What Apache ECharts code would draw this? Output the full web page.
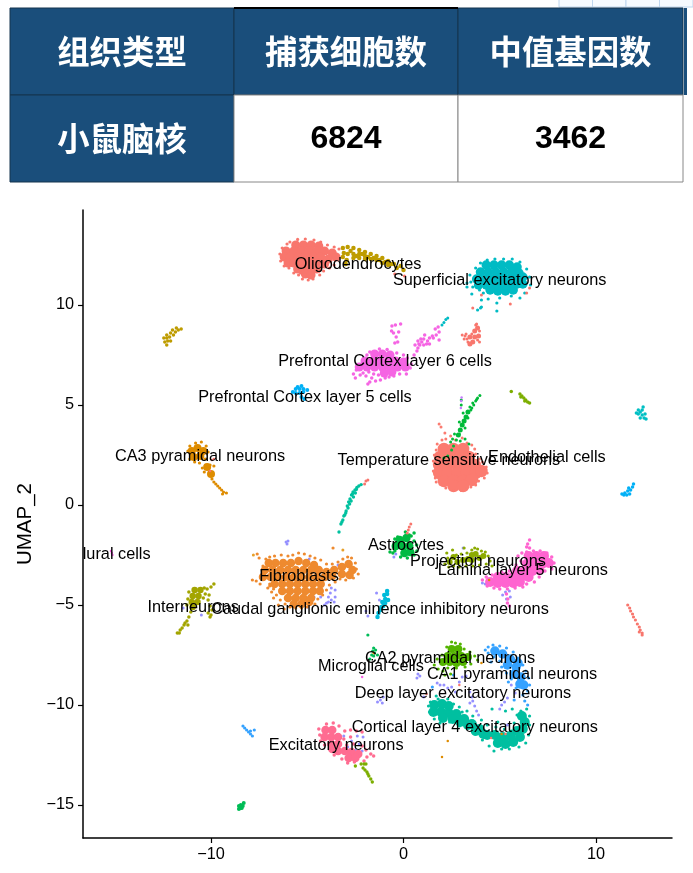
<!DOCTYPE html>
<html><head><meta charset="utf-8">
<style>html,body{margin:0;padding:0;background:#fff}#c{width:693px;height:873px}</style>
<script src="https://cdn.jsdelivr.net/npm/echarts@6/dist/echarts.min.js"></script>
</head><body><div id="c"></div>
<script>
const tableHead=["组织类型","捕获细胞数","中值基因数"];
const tableRow=["小鼠脑核","6824","3462"];
const xTicks=[-10,0,10];
const yTicks=[-15,-10,-5,0,5,10];
const labelNames=["Oligodendrocytes","Superficial excitatory neurons","Prefrontal Cortex layer 6 cells","Prefrontal Cortex layer 5 cells","CA3 pyramidal neurons","Temperature sensitive neurons","Endothelial cells","Astrocytes","Projection neurons","Lamina layer 5 neurons","Fibroblasts","Interneurons","Caudal ganglionic eminence inhibitory neurons","CA2 pyramidal neurons","Microglial cells","CA1 pyramidal neurons","Deep layer excitatory neurons","Cortical layer 4 excitatory neurons","Excitatory neurons","lural cells"];
const labelX=[-2.36,5.0,-0.96,-5.12,-10.57,2.36,7.45,0.13,3.87,6.2,-5.43,-10.93,-1.22,2.42,-1.69,5.64,3.09,3.71,-3.5,-14.9];
const labelY=[12.0,11.2,7.15,5.38,2.42,2.23,2.35,-2.05,-2.85,-3.3,-3.6,-5.15,-5.25,-7.7,-8.1,-8.5,-9.45,-11.15,-12.05,-2.47];

const oligoCore=[[-5.6,13],[-5.2,13],[-4.8,13],[-4.4,12.95],[-6.1,12.7],[-5.7,12.7],[-5.3,12.7],[-4.9,12.7],[-4.5,12.7],[-4.1,12.7],[-3.7,12.6],[-6.2,12.4],[-5.9,12.4],[-5.5,12.4],[-5.1,12.4],[-4.7,12.4],[-4.3,12.4],[-3.9,12.3],[-3.5,12.4],[-6,12.1],[-5.7,12.1],[-5.3,12.1],[-4.9,12.1],[-4.5,12.1],[-4.1,12.05],[-5.5,11.8],[-5.2,11.8],[-4.8,11.8],[-4.5,11.8],[-5.1,11.55],[-4.8,11.5]];
const oligoFringe=[[-6.42,12.55],[-6.38,12.2],[-6.3,12.85],[-6.05,13.05],[-5.9,13.15],[-5.5,13.28],[-5.1,13.3],[-4.65,13.25],[-4.3,13.15],[-3.95,13.0],[-3.6,12.9],[-3.35,12.8],[-6.2,11.95],[-5.95,11.85],[-5.7,11.6],[-5.45,11.5],[-5.25,11.3],[-4.95,11.25],[-4.7,11.3],[-4.35,11.5],[-4.15,11.7],[-3.85,11.85],[-3.6,12],[-0.45,11.55],[0.05,11.45],[-5.35,11.6]];
const oligoTail=[[-3.15,12.85],[-3.1,12.6],[-3.15,12.4],[-2.9,12.9],[-2.9,12.55],[-2.95,12.25],[-2.6,12.85],[-2.6,12.55],[-2.6,12.35],[-2.3,12.75],[-2.3,12.55],[-2.3,12.35],[-2,12.65],[-2,12.45],[-2,12.3],[-1.7,12.55],[-1.7,12.3],[-1.4,12.45],[-1.4,12.25],[-1.1,12.35],[-1.1,12.1],[-0.8,12.2],[-0.8,12],[-0.5,12.05],[-0.35,11.85],[-0.15,11.95],[0,11.75],[-3.0,12.05],[-2.75,12.7],[-2.45,12.45],[-2.15,12.55],[-1.85,12.4],[-1.55,12.35],[-1.25,12.25],[-0.95,12.15],[-0.65,12.05]];
const superCore=[[4.3,12],[4.7,12],[5.1,12],[5.5,12],[5.9,11.9],[4,11.65],[4.4,11.65],[4.8,11.65],[5.2,11.65],[5.6,11.65],[6,11.6],[6.2,11.4],[3.8,11.3],[4.2,11.3],[4.6,11.3],[5,11.3],[5.4,11.3],[5.8,11.3],[3.9,11],[4.3,11],[4.7,11],[5.1,11],[5.5,11],[5.9,11.05],[6.2,11.05],[4.5,10.75],[4.9,10.7],[5.3,10.7],[5.7,10.75]];
const superFringe=[[3.45,11.5],[3.5,11.15],[3.6,10.9],[3.75,11.85],[4,12.1],[4.35,12.25],[4.75,12.3],[5.2,12.3],[5.65,12.3],[6.05,12.15],[6.4,11.8],[6.55,11.4],[6.6,11],[6.3,10.6],[6.05,10.35],[5.6,10.45],[5,10.35],[4.85,10.1],[4.4,10.3],[4.05,10.25],[4.15,10.6],[3.95,10.75],[3.3,10.9],[3.55,10.55],[3.85,9.75],[4.05,9.9],[4.85,9.7],[3.3,11.1]];
const superSalmon=[[4.05,10.5],[5.55,10.05],[6.4,10.6],[6.55,10.85],[3.6,9.85]];
const pfc6Core=[[-1.5,7.55],[-1.1,7.55],[-0.7,7.5],[-2,7.2],[-1.6,7.2],[-1.2,7.2],[-0.8,7.2],[-0.4,7.2],[0,7.15],[-2.3,6.9],[-1.9,6.9],[-1.5,6.9],[-1.1,6.9],[-0.7,6.9],[-0.3,6.9],[0.1,6.9],[-1,6.6],[-0.6,6.65]];
const pfc6Fringe=[[-2.6,6.55],[-2.45,6.75],[-2.5,6.35],[-2.25,6.5],[-2.1,6.6],[-1.95,6.45],[-1.8,6.65],[-1.65,6.35],[-1.55,6.55],[-1.45,6.2],[-1.3,6.5],[-1.2,6.25],[-0.95,6.35],[-0.75,6.4],[-1.75,6.15],[-1.85,6.05],[-0.5,6.45],[-0.2,6.55],[0.15,6.55],[0.35,6.85],[0.4,7.05],[0.2,7.35],[0,7.5],[-0.35,7.6],[-1.9,7.5],[-1.75,7.65],[-1.25,7.8],[-0.85,7.78],[-0.45,8.1],[-0.38,8.4],[-0.3,8.15],[-0.52,8.6],[-0.6,8.95],[-0.42,9.0],[-0.25,8.65],[-0.15,9.05],[-0.62,8.7],[0.55,7.5],[0.7,7.7],[0.6,8],[0.75,8.2],[0.9,8.3],[0.85,8],[1.05,8],[1.05,8.3],[1.25,8.2],[1.35,8.05],[1.5,8.45],[1.7,8.5],[1.65,8.8],[1.85,8.65],[1.35,8.35],[1.1,8.5],[0.75,7.85],[1.85,8.25],[1.55,8.35],[1.8,8.9],[0.95,8.15],[1.2,8.05],[0.8,8.05]];
const tealBits=[[2.0,9.0],[2.1,9.12],[2.2,9.28],[2.3,9.35],[4.0,9.85]];
const salmonSmallCore=[[3.45,8.4],[3.7,8.4],[3.9,8.45],[3.7,8.7],[3.85,8.85],[3.6,8.15],[3.45,8.05]];
const salmonSmallFringe=[[3.05,8.5],[3.2,8.45],[3.15,8.3],[3.3,8.3],[3.35,8.15],[3.95,8.15],[3.85,8.25],[3.95,8.7],[3.75,9.0],[3.8,9.05],[3.55,8.55],[3.25,8.55]];
const pfc5=[[-5.6,5.8],[-5.4,5.8],[-5.2,5.8],[-5.6,5.6],[-5.4,5.6],[-5.2,5.65],[-5,5.75],[-5.75,5.65],[-5.3,5.95],[-5.5,5.9],[-5.3,5.4],[-5.15,5.3]];
const goldLeft=[[-12.3,8.0],[-12.4,8.15],[-12.25,8.2],[-12.1,8.2],[-12.45,8.35],[-12.3,8.35],[-12.15,8.4],[-12.3,8.5],[-12.1,8.6],[-11.95,8.5],[-11.85,8.65],[-11.7,8.75],[-11.55,8.8],[-12,8.75],[-11.8,8.85]];
const greenCore=[[3.35,4.65],[3.25,4.4],[3.15,4.2],[3.05,4.0],[2.95,3.75],[2.85,3.5]];
const greenFringe=[[3.5,4.75],[3.1,4.6],[3.35,4.35],[2.9,4.15],[3.2,3.85],[2.65,3.55],[2.55,3.3],[2.75,3.25],[2.95,3.2],[2.45,3.15],[3.2,3.3],[3.4,3.05],[2.5,2.75],[2.3,2.45],[2.1,2.35],[2.6,2.95],[2.9,3.55],[3.55,4.85],[3.65,5.0],[3.75,5.2],[3.85,5.35],[3.97,5.48],[3.45,4.9],[3.6,5.1],[3.8,5.28],[3.0,5.0],[3.0,5.25]];
const tempMag=[[3.0,5.2],[3.02,5.38],[2.98,4.85]];
const tempCore=[[2.1,2.8],[2.6,2.8],[3.1,2.8],[1.9,2.4],[2.4,2.4],[2.9,2.4],[3.4,2.4],[1.85,2],[2.3,2],[2.8,2],[3.3,2],[3.7,2],[1.85,1.6],[2.3,1.6],[2.8,1.6],[3.3,1.6],[3.75,1.6],[4.05,1.7],[2.1,1.2],[2.6,1.2],[3.1,1.2],[3.55,1.25],[2.6,0.95],[3.1,0.95]];
const tempFringe=[[1.55,2.2],[1.6,2.5],[1.7,2.75],[1.75,3.05],[2.0,3.25],[2.2,3.3],[2.45,3.45],[2.15,3.6],[1.95,3.9],[1.85,4.05],[2.7,3.25],[3.05,3.35],[3.3,3.1],[3.55,3.0],[3.7,2.8],[3.75,2.55],[3.95,2.3],[4.1,2.15],[4.3,1.9],[4.35,1.6],[4.2,1.35],[3.9,1.2],[3.75,1.0],[3.5,0.9],[3.3,0.85],[3.0,0.72],[2.6,0.72],[2.2,0.85],[1.9,1.05],[1.65,1.35],[1.55,1.7],[1.7,1.15]];
const streakTeal=[[-3.35,-1.35],[-3.25,-0.95],[-3.15,-0.75],[-3.05,-0.5],[-2.98,-0.3],[-2.92,-0.05],[-2.85,0.15],[-2.78,0.3],[-2.7,0.5],[-2.62,0.65],[-2.52,0.75],[-2.42,0.88],[-2.32,0.95],[-2.2,1.02],[-2.8,0.05],[-2.6,0.4],[-3.1,-0.55],[-2.5,0.6],[-3.2,-0.85],[-3.0,-0.4],[-2.88,-0.15],[-2.72,0.2],[-2.65,0.55],[-2.45,0.78]];
const streakSalmon=[[-1.95,1.2],[-2.02,1.05],[-1.85,1.25]];
const astroCore=[[-0.2,-1.75],[0.15,-1.65],[-0.4,-2.05],[-0.05,-2.05],[0.3,-2.05],[0.05,-2.4],[0.35,-2.35]];
const astroFringe=[[-0.7,-2.35],[-0.55,-2.4],[-0.45,-2.3],[0.1,-1.35],[0.3,-1.5],[0.4,-1.55],[0.55,-1.8],[0.68,-2.0],[0.7,-2.3],[0.55,-2.5],[0.2,-2.65],[-0.15,-2.6],[-0.3,-1.6],[-0.45,-1.7],[0.55,-1.4]];
const astroSalmon=[[0.25,-1.25],[0.3,-1.1],[0.38,-0.95],[0.2,-1.4]];
const lava=[[-0.4,-2.45],[-0.5,-2.6],[3.1,-2.15],[5.3,-4.35],[5.5,-4.3],[5.15,-4.5],[5.55,-4.6],[5.35,-4.7],[4.1,-3.9],[4.25,-3.95],[4.85,-3.75],[5.0,-3.95],[-1.85,-5.55],[-1.95,-5.3],[-4.1,-5.0],[-4.0,-4.9],[-4.3,-4.6],[-3.9,-4.85],[-3.75,-4.75],[-3.6,-4.85],[-3.8,-4.4],[-3.55,-4.25],[-3.75,-4.15],[-3.55,-4.6],[-4.65,-4.6],[-4.35,-4.2],[-3.9,-4.6],[-3.4,-3.0],[-4.9,-2.7],[-5.0,-5.1],[-6.1,-1.85],[-6.0,-1.8],[-6.05,-1.95],[-1.4,-4.4],[-1.25,-4.75],[-10.5,-5.5],[-10.85,-4.9],[-10.7,-4.6],[-11.45,-5.15],[0.75,-8.45],[0.85,-8.55],[0.7,-8.65],[1.75,-8.9],[1.9,-9],[2.1,-9],[2.3,-9.15],[2.5,-9.1],[2.7,-9.35],[2.9,-8.85],[3.05,-8.6],[3.25,-8.55],[3.45,-9.35],[3.55,-9.6],[3.6,-9.8],[3.7,-10.05],[3.8,-10.3],[3.45,-9.9],[3.9,-10.5],[5.1,-10],[5.25,-9.85],[5.4,-9.65],[5.0,-10.2],[-1.2,-9.75],[-1.1,-9.9],[-1.35,-9.85],[-1.05,-9.6],[5.6,-9],[5.8,-9.4],[4.8,-11.4],[5.4,-11.0],[1.05,-9.6],[-3.1,-11.55],[-2.7,-11.8],[-2.4,-11.55],[-2.3,-11.95],[-2.9,-12.1],[-2.5,-12.25],[-2.15,-12.3],[-2.1,-11.6]];
const lamina=[[6.5,-2.55],[6.9,-2.55],[7.3,-2.55],[6.4,-2.95],[6.8,-2.95],[7.2,-2.95],[7.55,-2.9],[5.9,-3.3],[6.3,-3.3],[6.7,-3.3],[7.05,-3.25],[4.9,-3.6],[5.3,-3.6],[5.7,-3.6],[6.1,-3.6],[6.5,-3.6],[4.5,-3.85],[4.9,-3.9],[5.3,-3.9],[5.7,-3.9],[6.05,-3.85]];
const laminaFringe=[[6.15,-2.4],[6.4,-2.35],[6.75,-2.3],[7.1,-2.3],[7.45,-2.4],[7.7,-2.6],[7.82,-2.9],[7.7,-3.2],[7.35,-3.3],[7.05,-3.6],[6.8,-3.85],[6.4,-3.95],[6.2,-4.1],[5.8,-4.15],[5.4,-4.2],[5,-4.2],[4.7,-4.15],[4.35,-4.05],[4.1,-3.75],[4.3,-3.6],[4.6,-3.5],[5.1,-3.35],[5.5,-3.3],[5.85,-3.0],[6.1,-2.8],[5.95,-2.55],[5.35,-4.45],[5.42,-4.7],[5.4,-4.9],[5.5,-5.05],[6.45,-1.95],[6.55,-1.75],[6.55,-2.15],[6.4,-2.1]];
const proj=[[2.4,-2.85],[2.6,-2.6],[2.8,-2.85],[3.1,-2.75],[3.35,-2.7],[3.55,-2.5],[3.75,-2.45],[3.55,-2.75],[3.95,-2.65],[4.15,-2.55]];
const projFringe=[[2.25,-2.4],[2.3,-2.65],[2.55,-2.25],[2.75,-2.5],[3.0,-2.45],[3.15,-2.15],[3.3,-2.4],[3.7,-2.15],[3.55,-2.25],[3.85,-2.2],[4.05,-2.3],[4.25,-2.35],[4.4,-2.55],[4.5,-2.8],[4.3,-2.95],[3.95,-3.0],[3.6,-3.05],[3.25,-3.05],[2.9,-3.1],[2.6,-3.05],[2.35,-3.1],[2.15,-2.95],[4.6,-3.05]];
const fibroCore=[[-7,-2.9],[-6.65,-2.9],[-6.25,-2.9],[-5.85,-2.9],[-5.45,-2.8],[-5.05,-2.9],[-4.65,-3],[-7.2,-3.25],[-6.8,-3.25],[-6.4,-3.25],[-6,-3.25],[-5.6,-3.25],[-5.2,-3.25],[-4.8,-3.25],[-4.4,-3.25],[-4,-3.35],[-3.6,-3.25],[-3.2,-3.1],[-2.85,-2.95],[-2.65,-3.25],[-7.3,-3.6],[-6.9,-3.6],[-6.5,-3.6],[-6.1,-3.6],[-5.7,-3.6],[-5.3,-3.6],[-4.9,-3.6],[-4.5,-3.6],[-4.1,-3.6],[-3.7,-3.55],[-3.2,-3.45],[-2.8,-3.5],[-6.7,-3.95],[-6.3,-3.95],[-5.9,-3.95],[-5.5,-3.95],[-5.1,-3.95],[-4.7,-3.95],[-4.3,-3.95],[-6.3,-4.3],[-5.9,-4.3],[-5.5,-4.3],[-5.1,-4.3],[-4.7,-4.3],[-4.35,-4.3],[-6,-4.65],[-5.6,-4.65],[-5.2,-4.65],[-4.8,-4.65],[-5.7,-4.95],[-5.3,-4.95],[-4.9,-4.85]];
const fibroFringe=[[-7.85,-3.75],[-7.65,-3.8],[-7.45,-3.95],[-7.3,-3.05],[-7.15,-2.7],[-6.95,-2.6],[-6.7,-2.55],[-6.35,-2.5],[-6,-2.55],[-5.75,-2.5],[-5.45,-2.4],[-5.15,-2.45],[-4.85,-2.55],[-4.6,-2.65],[-4.3,-2.75],[-4,-2.95],[-3.7,-2.95],[-3.4,-2.85],[-3.15,-2.7],[-2.9,-2.6],[-2.7,-2.65],[-2.5,-2.9],[-2.45,-3.2],[-2.35,-3.45],[-2.6,-3.65],[-3,-3.75],[-3.3,-3.7],[-3.55,-3.85],[-3.85,-4],[-4,-4.25],[-4.2,-4.5],[-4.45,-4.7],[-4.6,-4.95],[-5,-5.1],[-5.3,-5.15],[-5.6,-5.15],[-5.9,-5.1],[-6.15,-4.95],[-6.4,-4.75],[-6.6,-4.5],[-6.75,-4.2],[-6.95,-4.05],[-6.95,-3.95],[-7.05,-4.15],[-6.85,-4.35],[-7.5,-2.65],[-7.6,-2.45],[-6.75,-4.65],[-6.5,-5],[-6.2,-5.2],[-3.66,-2.15]];
const fibroSalmon=[[-7.8,-2.5],[-3.15,-2.25]];
const interCore=[[-10.85,-4.25],[-10.55,-4.25],[-10.95,-4.55],[-10.65,-4.55],[-11,-4.85],[-10.7,-4.85],[-10.95,-5.1]];
const interFringe=[[-11.15,-4.35],[-11.2,-4.7],[-11.25,-5.0],[-10.35,-4.15],[-10.3,-4.45],[-10.4,-4.65],[-10.2,-4.2],[-10.0,-4.1],[-9.85,-3.95],[-10.1,-4.5],[-10.15,-4.75],[-10.05,-5.05],[-9.95,-5.25],[-10.15,-5.4],[-10,-5.5],[-10.05,-5.6],[-11.05,-5.35],[-11.15,-5.6],[-11.25,-5.8],[-11.2,-6],[-11.4,-6],[-11.5,-6.15],[-11.6,-6.25],[-11.75,-6.4],[-11.65,-6.4],[-11.35,-5.9]];
const ca3Core=[[-11,2.7],[-10.7,2.85],[-10.4,2.7],[-10.9,2.4],[-10.55,2.45],[-10.2,1.9],[-10.0,1.55]];
const ca3Fringe=[[-11.2,2.7],[-11.1,2.95],[-10.8,3.1],[-10.5,3.15],[-10.25,2.95],[-10.15,2.65],[-10.3,2.3],[-10.6,2.1],[-10.85,2.15],[-11.1,2.3],[-10.45,1.85],[-10.35,1.65],[-10.05,2],[-9.85,1.95],[-9.95,1.3],[-9.85,1.15],[-9.75,1.05],[-9.65,0.95],[-9.55,0.85],[-9.45,0.75],[-9.35,0.65],[-9.2,0.6],[-9.4,0.55]];
const ca3Salmon=[[-9.95,2.25],[-9.85,2.3],[-10.05,1.7]];
const olive6=[[5.6,5.68],[6.05,5.55],[6.15,5.45],[6.25,5.35],[6.35,5.25],[6.45,5.15],[6.55,5.1],[6.1,5.4],[6.3,5.2]];
const cyanRight=[[12.2,4.75],[12.4,4.75],[12.2,4.55],[12.4,4.5],[12.55,4.55],[12.3,4.65],[12.3,4.35],[12.5,4.35],[12.1,4.6],[12.45,4.9],[12.6,4.3]];
const blueRight=[[11.35,0.55],[11.5,0.6],[11.65,0.7],[11.8,0.75],[11.6,0.5],[11.75,0.55],[11.9,0.9],[11.95,1.05],[11.7,0.85],[11.45,0.5]];
const salmonRight=[[11.65,-5],[11.75,-5.15],[11.8,-5.3],[11.9,-5.45],[11.95,-5.6],[12.05,-5.75],[12.15,-5.95],[12.25,-6.1],[12.3,-6.25],[12.4,-6.4],[12.4,-6.5],[12.25,-6.35]];
const caudal=[[-1.0,-4.5],[-0.85,-4.45],[-0.95,-4.7],[-0.8,-4.75],[-1.1,-4.85],[-0.95,-4.9],[-1.15,-5.1],[-1.05,-5.05],[-1.2,-5.25],[-1.3,-5.4],[-1.35,-5.6],[-0.85,-4.3]];
const blueLeft=[[-8.34,-11.05],[-8.25,-11.15],[-8.15,-11.25],[-8.05,-11.35],[-7.95,-11.45],[-7.85,-11.55],[-7.95,-11.3],[-7.75,-11.25]];
const greenBottom=[[-8.45,-15.15],[-8.55,-15.2],[-8.35,-15.05],[-8.45,-15],[-8.3,-14.9],[-8.55,-15.05],[-8.4,-15.15]];
const exciteCore=[[-4.05,-11.25],[-3.7,-11.25],[-4.1,-11.6],[-3.75,-11.6],[-3.4,-11.6],[-3.75,-11.95],[-3.4,-11.95],[-3.4,-12.3],[-3.05,-12.3],[-2.7,-12.35],[-2.35,-12.45],[-2.85,-12.65],[-2.5,-12.65],[-3.7,-12.2]];
const exciteFringe=[[-4.4,-11.2],[-4.35,-11.5],[-4.3,-11.8],[-4.1,-12],[-4.0,-10.95],[-3.65,-10.9],[-3.35,-11.05],[-3.05,-11.3],[-2.75,-11.25],[-2.45,-11.3],[-2.15,-11.35],[-3.1,-11.7],[-2.75,-11.6],[-2.95,-12],[-2.15,-12.05],[-1.95,-12.25],[-1.7,-12.45],[-1.55,-12.55],[-1.9,-12.6],[-2.05,-12.8],[-2.55,-12.85],[-2.9,-12.9],[-3.2,-12.7],[-3.6,-12.5],[-2.6,-11.95]];
const oliveTail=[[-2.1,-13.15],[-2.0,-13.25],[-1.9,-13.35],[-1.85,-13.45],[-1.8,-13.55],[-1.7,-13.7],[-1.62,-13.85],[-2.05,-12.95],[-1.95,-12.95],[-2.2,-12.95],[-2.5,-13.05]];
const ca1Core=[[4.75,-7.3],[5.15,-7.45],[5.55,-7.7],[5.4,-8.0],[5.85,-8.1],[5.75,-8.45],[6.1,-8.6],[6.05,-8.95],[5.95,-7.9],[6.25,-9.0]];
const ca1Fringe=[[4.4,-7.1],[4.65,-7.0],[5.0,-7.05],[5.35,-7.15],[5.7,-7.35],[5.95,-7.65],[6.2,-8],[6.35,-8.3],[6.5,-8.65],[6.55,-9],[6.45,-9.3],[6.2,-9.5],[5.85,-9.15],[5.6,-8.7],[5.35,-8.4],[5.1,-8.1],[5.0,-7.8],[4.7,-7.6],[4.4,-7.4],[4.25,-7.25],[6.3,-9.8],[6.45,-10],[5.75,-9.75],[5.45,-8.85],[4.55,-7.85],[2.6,-8.5],[1.5,-9.1]];
const ca2Core=[[2.5,-7.2],[2.85,-7.2],[2.3,-7.55],[2.65,-7.55],[3,-7.55],[3.35,-7.6],[2.05,-7.85],[2.4,-7.85],[2.75,-7.9],[3.1,-7.85]];
const ca2Fringe=[[2.5,-6.85],[2.7,-6.9],[2.95,-6.95],[2.25,-7.1],[3.15,-7.2],[3.45,-7.35],[3.7,-7.55],[3.85,-7.75],[3.5,-7.95],[3.2,-8.1],[2.75,-8.15],[2.3,-8.15],[2.05,-8.3],[1.8,-8.2],[1.6,-8],[1.75,-7.7],[2.0,-7.5],[2.45,-8.45],[2.15,-8.5]];
const ctxCore=[[1.6,-10],[2,-9.95],[1.55,-10.35],[1.95,-10.35],[2.35,-10.4],[2.75,-10.45],[2.05,-10.65],[3.15,-10.7],[3.55,-10.95],[3.95,-11.2],[4.35,-11.5],[4.75,-11.5],[5.15,-11.6],[4.9,-11.9],[5.3,-11.95],[5.7,-11.85],[6.05,-11.6],[6.2,-11.2],[6.3,-10.85],[2.35,-10.05],[2.55,-10.7],[2.95,-10.85],[3.35,-11],[3.75,-11.3],[4.15,-11.45],[5.55,-11.55],[5.9,-11.3],[6.15,-10.55]];
const ctxFringe=[[1.3,-10.05],[1.35,-10.35],[1.4,-9.85],[1.8,-9.7],[2.3,-9.7],[2.6,-9.95],[2.9,-10.1],[3.3,-10.3],[3.6,-10.55],[4.05,-10.75],[4.35,-11],[4.8,-11.1],[5.25,-11.2],[5.6,-11.3],[5.75,-10.9],[5.9,-10.5],[6.1,-10.3],[6.4,-10.2],[6.55,-10.55],[6.55,-11],[6.5,-11.5],[6.35,-11.9],[6,-12.1],[5.5,-12.2],[5.1,-12.2],[4.7,-12.3],[4.45,-12.05],[4.1,-11.75],[3.7,-11.45],[3.3,-11.1],[2.9,-11.05],[2.4,-10.85],[1.9,-10.9],[1.6,-10.7],[5.3,-10.3],[5.65,-10.2],[4.6,-10.2],[4.9,-10.85],[1.7,-9.55],[3.05,-10.35]];
const ca2Dots=[[-1.85,-6.5],[-1.55,-7.15],[-1.45,-7.25],[-1.6,-7.3],[-1.5,-7.4],[-1.55,-7.55],[-1.65,-7.5],[-1.75,-7.7],[-1.35,-7.5]];
const magDots=[[-2.15,-8.6],[-15.15,-2.4],[-15.2,-2.3],[-15.12,-2.5]];
const orangeDots=[[-1.55,-7.4],[4.05,-7.9],[2.0,-12.6],[5.1,-11.45],[2.3,-11.8],[4.45,-3.75]];
const pinkDots=[[2.9,-9.0],[5.3,-11.45],[4.55,-11.65],[1.2,-9.45]];

const sets=[
[oligoCore,'#F8766D',9],[oligoFringe,'#F8766D',3.2],[oligoTail,'#BE9C00',4.5],
[superCore,'#00BBC4',9.5],[superFringe,'#00BBC4',3.2],[superSalmon,'#F8766D',3],
[pfc6Core,'#F564E3',9],[pfc6Fringe,'#F564E3',3.5],[tealBits,'#00BBC4',3],
[salmonSmallCore,'#F8766D',5],[salmonSmallFringe,'#F8766D',3],
[pfc5,'#00B0F6',4],[goldLeft,'#BE9C00',3.5],
[tempCore,'#FB7B70',12.5],[tempFringe,'#FB7B70',3],[greenCore,'#00BA38',5],[greenFringe,'#00BA38',3],[tempMag,'#C77CFF',2.5],
[streakTeal,'#00C19F',3.4],[streakSalmon,'#F8766D',3],
[astroCore,'#00BA42',8.5],[astroFringe,'#00BA42',3.5],[astroSalmon,'#F8766D',3],
[lava,'#9590FF',3],
[proj,'#8CAB00',6],[projFringe,'#8CAB00',3.2],
[lamina,'#FF64D0',10],[laminaFringe,'#FF64D0',3.5],
[fibroCore,'#EE8A2F',8.5],[fibroFringe,'#EE8A2F',3.2],[fibroSalmon,'#E7A02A',3],
[interCore,'#A3A500',6.5],[interFringe,'#A3A500',3.5],
[ca3Core,'#DE8C00',8],[ca3Fringe,'#DE8C00',3.2],[ca3Salmon,'#F8766D',2.5],
[olive6,'#7CAE00',3.5],[cyanRight,'#00BFC4',3.5],[blueRight,'#00B0F6',3.5],[salmonRight,'#F8766D',3.2],
[caudal,'#00BBDA',4.5],[blueLeft,'#35A2FF',3.2],[greenBottom,'#00BC56',4],
[exciteCore,'#FF6C91',8.5],[exciteFringe,'#FF6C91',3.5],[oliveTail,'#7CAE00',3.4],
[ca1Core,'#35A2FF',9.5],[ca1Fringe,'#35A2FF',3.2],
[ctxCore,'#00BFA0',10],[ctxFringe,'#00BFA0',3.2],
[ca2Core,'#53B400',8],[ca2Fringe,'#53B400',3.2],
[ca2Dots,'#00BC59',3.2],[magDots,'#F564E3',2.5],[orangeDots,'#DE8C00',2.5],[pinkDots,'#F8766D',2.5]
];
const series=sets.map(([d,color,size])=>({type:'scatter',data:d,symbolSize:size,itemStyle:{color,opacity:1},silent:true,animation:false,z:2}));
series.push({type:'scatter',symbolSize:0,z:5,silent:true,animation:false,
 data:labelNames.map((n,i)=>({name:n,value:[labelX[i],labelY[i]]})),
 label:{show:true,position:'inside',formatter:'{b}',color:'#000',opacity:1,fontSize:16.3,fontFamily:'"Liberation Sans",Arial,sans-serif'},labelLayout:{hideOverlap:false}});

const COLX=[10,234,458,683],ROWY=[8,95,182],NAVY='#1A4E7B';
const g=[];
function cell(x,y,w,h,fill,stroke){g.push({type:'rect',shape:{x,y,width:w,height:h},style:{fill,stroke,lineWidth:1}});}
function txt(t,x,y,col,size,fam){g.push({type:'text',style:{text:t,x,y,fill:col,fontSize:size,fontWeight:'bold',fontFamily:fam,align:'center',verticalAlign:'middle'},z:3});}
const cjk='"Noto Sans CJK SC",sans-serif',lat='"Liberation Sans",Arial,sans-serif';
for(let i=0;i<4;i++) g.push({type:'rect',shape:{x:559+33.5*i,y:-1,width:33.5,height:8},style:{fill:'#F6FAFE',stroke:'#BFD6EE',lineWidth:1}});
for(let i=0;i<3;i++){
 cell(COLX[i],ROWY[0],COLX[i+1]-COLX[i],ROWY[1]-ROWY[0],NAVY,'#14344F');
 txt(tableHead[i],(COLX[i]+COLX[i+1])/2,52,'#fff',32.4,cjk);
 if(i==0){cell(COLX[i],ROWY[1],COLX[i+1]-COLX[i],ROWY[2]-ROWY[1],NAVY,'#14344F');txt(tableRow[i],(COLX[i]+COLX[i+1])/2,139,'#fff',32.4,cjk);}
 else{cell(COLX[i],ROWY[1],COLX[i+1]-COLX[i],ROWY[2]-ROWY[1],'#fff','#888');txt(tableRow[i],(COLX[i]+COLX[i+1])/2,139,'#000',32,lat);}
}
g.push({type:'rect',shape:{x:684,y:8,width:3,height:87},style:{fill:NAVY}});
g.push({type:'line',shape:{x1:234,y1:8,x2:458,y2:8},style:{stroke:'#000',lineWidth:2}});

const axisCommon={axisLine:{show:true,onZero:false,lineStyle:{color:'#000',width:1.5}},splitLine:{show:false},
 axisTick:{show:true,length:5,lineStyle:{color:'#000',width:1.2}}};
const fmt=v=>String(v).replace('-','\u2212');
const chart=echarts.init(document.getElementById('c'),null,{renderer:'canvas'});
chart.setOption({animation:false,backgroundColor:'#fff',
 grid:{left:83,right:21,top:210,bottom:35},
 xAxis:{type:'value',min:-16.65,max:13.95,...axisCommon,axisTick:{...axisCommon.axisTick,customValues:xTicks},
  axisLabel:{customValues:xTicks,formatter:fmt,color:'#000',fontSize:16.3,margin:9,fontFamily:lat}},
 yAxis:{type:'value',min:-16.65,max:14.75,name:'UMAP_2',nameLocation:'middle',nameGap:44,nameRotate:90,nameTextStyle:{color:'#000',fontSize:20.5,fontFamily:lat},
  ...axisCommon,axisTick:{...axisCommon.axisTick,customValues:yTicks},
  axisLabel:{customValues:yTicks,formatter:fmt,color:'#000',fontSize:16.3,margin:9,fontFamily:lat}},
 series,graphic:g});
</script></body></html>
